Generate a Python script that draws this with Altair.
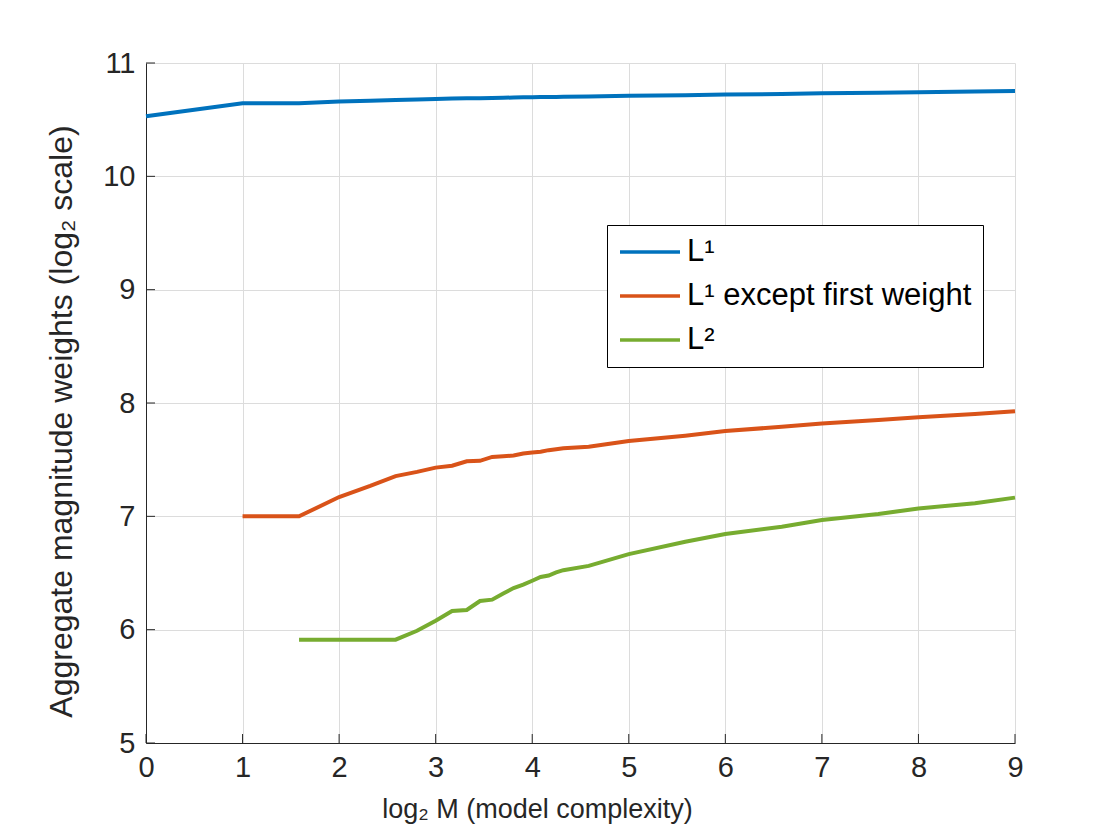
import altair as alt
import pandas as pd

# log2 M values (M = 1..20, 24, 32, 48, 64, 96, 128, 192, 256, 384, 512)
x_vals = [0, 1, 1.585, 2, 2.322, 2.585, 2.807, 3, 3.170, 3.322, 3.459, 3.585, 3.700,
          3.807, 3.907, 4, 4.087, 4.170, 4.248, 4.322, 4.585, 5, 5.585, 6, 6.585,
          7, 7.585, 8, 8.585, 9]

l1 = [10.53, 10.645, 10.645, 10.660, 10.668, 10.674, 10.678, 10.683, 10.686, 10.688,
      10.690, 10.692, 10.694, 10.695, 10.697, 10.698, 10.699, 10.700, 10.701, 10.702,
      10.705, 10.710, 10.716, 10.721, 10.727, 10.732, 10.737, 10.742, 10.748, 10.753]

l1_except_first = [None, 7.00, 7.00, 7.17, 7.268, 7.355, 7.392, 7.430, 7.447, 7.486,
                   7.490, 7.524, 7.530, 7.537, 7.555, 7.563, 7.570, 7.584, 7.592, 7.600,
                   7.614, 7.665, 7.712, 7.753, 7.790, 7.820, 7.850, 7.874, 7.903, 7.927]

l2 = [None, None, 5.912, 5.912, 5.912, 5.912, 5.990, 6.079, 6.165, 6.174,
      6.253, 6.265, 6.320, 6.367, 6.397, 6.432, 6.465, 6.478, 6.505, 6.525,
      6.563, 6.667, 6.776, 6.844, 6.909, 6.968, 7.020, 7.070, 7.115, 7.165]

series_names = ["L\u00b9", "L\u00b9 except first weight", "L\u00b2"]
series_colors = ["#0072BD", "#D95319", "#77AC30"]

x_ticks = [0, 1, 2, 3, 4, 5, 6, 7, 8, 9]
y_ticks = [5, 6, 7, 8, 9, 10, 11]

x_title = "log\u2082 M (model complexity)"
y_title = "Aggregate magnitude weights (log\u2082 scale)"

FONT = "Liberation Sans"
AX = "#262626"
W, H = 869, 680

rows = []
for name, vals in zip(series_names, [l1, l1_except_first, l2]):
    for xv, yv in zip(x_vals, vals):
        if yv is not None:
            rows.append({"x": xv, "y": yv, "series": name})
df = pd.DataFrame(rows)

xscale = alt.Scale(domain=[0, 9], nice=False, zero=False)
yscale = alt.Scale(domain=[5, 11], nice=False, zero=False)

x_axis = alt.Axis(values=x_ticks, title=x_title, titleX=391, titleY=74,
                  titleAlign="center", titleBaseline="alphabetic",
                  titleFontSize=27, labelPadding=10)
y_axis = alt.Axis(values=y_ticks, title=y_title, titleX=-75, titleY=358,
                  titleAlign="center", titleBaseline="alphabetic",
                  titleAngle=270, titleFontSize=32, labelPadding=11)

lines = alt.Chart(df).mark_line(strokeWidth=4).encode(
    x=alt.X("x:Q", scale=xscale, axis=x_axis),
    y=alt.Y("y:Q", scale=yscale, axis=y_axis),
    color=alt.Color("series:N",
                    scale=alt.Scale(domain=series_names, range=series_colors),
                    sort=series_names,
                    legend=alt.Legend(orient="none", legendX=461, legendY=162,
                                      title=None, symbolType="stroke",
                                      symbolSize=3600, symbolStrokeWidth=3.5,
                                      labelFontSize=31, labelFont=FONT,
                                      labelColor="black", labelOffset=5,
                                      strokeColor="black", fillColor="white",
                                      padding=11, rowPadding=12, clipHeight=32,
                                      labelLimit=0)),
)

xtick_df = pd.DataFrame({"t": x_ticks})
ytick_df = pd.DataFrame({"t": y_ticks})

xticks = alt.Chart(xtick_df).mark_rule(color=AX, strokeWidth=1).encode(
    x=alt.X("t:Q", scale=xscale, axis=x_axis),
    y=alt.value(H), y2=alt.value(H - 9),
)
yticks = alt.Chart(ytick_df).mark_rule(color=AX, strokeWidth=1).encode(
    y=alt.Y("t:Q", scale=yscale, axis=y_axis),
    x=alt.value(0), x2=alt.value(9),
)

chart = alt.layer(lines, xticks, yticks).properties(
    width=W, height=H,
    padding={"left": 138, "top": 55, "right": 97, "bottom": 89},
    autosize=alt.AutoSizeParams(type="none"),
    background="white",
).configure_view(stroke=None).configure_axis(
    domainColor=AX, domainWidth=1, tickSize=0, tickColor=AX,
    gridColor="#dcdcdc", gridWidth=1, labelFont=FONT, labelFontSize=29,
    labelColor=AX, titleFont=FONT, titleColor=AX, titleFontWeight="normal",
    labelFlush=False, labelOverlap=False,
)

chart.save("out.html", embed_options={"renderer": "svg", "actions": False})
